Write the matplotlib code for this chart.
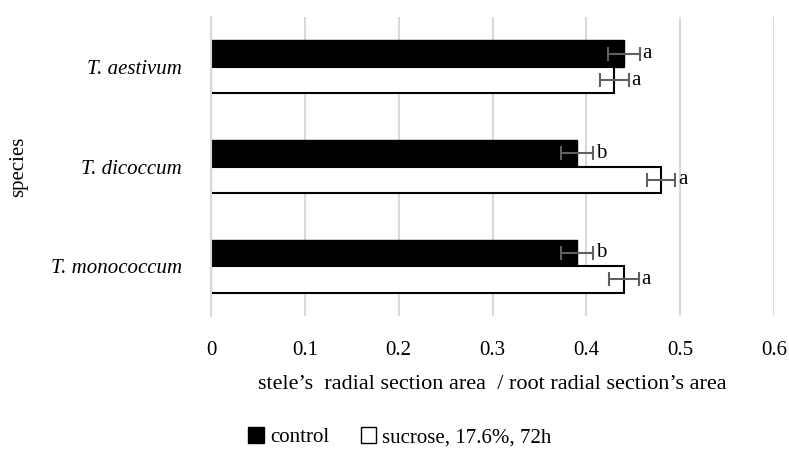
import numpy as np
import matplotlib.pyplot as plt
from matplotlib.patches import Patch

species = ["T. aestivum", "T. dicoccum", "T. monococcum"]
control = [0.44, 0.39, 0.39]
control_err = [0.017, 0.017, 0.017]
control_letters = ["a", "b", "b"]
sucrose = [0.43, 0.48, 0.44]
sucrose_err = [0.015, 0.015, 0.016]
sucrose_letters = ["a", "a", "a"]

plt.rcParams['font.family'] = ['Liberation Serif', 'DejaVu Serif']
fs = 15

fig = plt.figure(figsize=(7.89, 4.54), dpi=100)
ax = fig.add_axes([211 / 789, 1 - 316 / 454, (774 - 211) / 789, (316 - 17) / 454])

# top category first, like the Excel bar chart
y = np.arange(len(species))[::-1]
h = 0.265
yc = y + h / 2
ys = y - h / 2

ax.barh(yc, control, height=h, color='black', edgecolor='black', lw=1, zorder=2)
ax.barh(ys, sucrose, height=h, color='white', edgecolor='black', lw=1.5, zorder=2)
ax.errorbar(control, yc, xerr=control_err, fmt='none', ecolor='#606060',
            elinewidth=1.5, capsize=5, capthick=1.5, zorder=3)
ax.errorbar(sucrose, ys, xerr=sucrose_err, fmt='none', ecolor='#606060',
            elinewidth=1.5, capsize=5, capthick=1.5, zorder=3)

for v, e, t, yy in zip(control, control_err, control_letters, yc):
    ax.text(v + e + 0.003, yy, t, va='center', ha='left', fontsize=fs)
for v, e, t, yy in zip(sucrose, sucrose_err, sucrose_letters, ys):
    ax.text(v + e + 0.003, yy, t, va='center', ha='left', fontsize=fs)

ax.set_xlim(0, 0.6)
ax.set_ylim(-0.5, 2.5)
ax.set_xticks([0, 0.1, 0.2, 0.3, 0.4, 0.5, 0.6])
ax.set_xticklabels(["0", "0.1", "0.2", "0.3", "0.4", "0.5", "0.6"], fontsize=fs)
ax.set_yticks(y)
ax.set_yticklabels(species, fontsize=fs, style='italic')
ax.tick_params(axis='y', length=0, pad=21)
ax.tick_params(axis='x', length=0, pad=18)
ax.grid(axis='x', color='#d9d9d9', lw=1.5, zorder=0)
for s in ['top', 'right', 'bottom']:
    ax.spines[s].set_visible(False)
ax.spines['left'].set_color('#d9d9d9')
ax.spines['left'].set_linewidth(1.5)

ax.set_xlabel("stele\u2019s  radial section area  / root radial section\u2019s area",
              fontsize=16, labelpad=11)
ax.set_ylabel("species", fontsize=fs, labelpad=16)

handles = [Patch(facecolor='black', edgecolor='black', label='control'),
           Patch(facecolor='white', edgecolor='black', label='sucrose, 17.6%, 72h')]
fig.legend(handles=handles, loc='center', bbox_to_anchor=(0.507, 0.037), ncol=2,
           frameon=False, fontsize=fs, handlelength=0.75, handleheight=0.75,
           handletextpad=0.3, columnspacing=1.5)

fig.savefig('out.png', dpi=100)
